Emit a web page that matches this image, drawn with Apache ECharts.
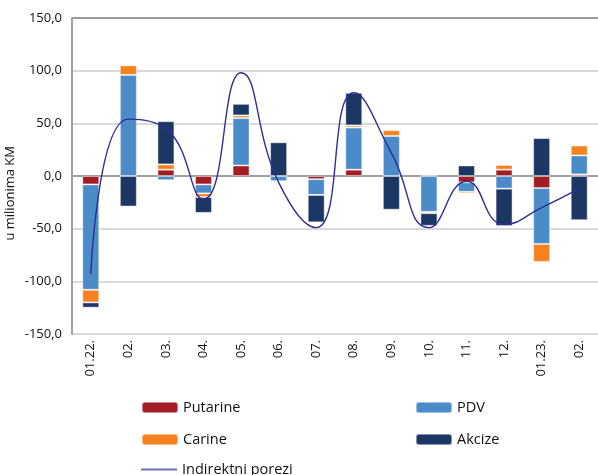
<!DOCTYPE html>
<html>
<head>
<meta charset="utf-8">
<script src="https://cdn.jsdelivr.net/npm/echarts@6/dist/echarts.min.js"></script>
<style>
html,body{margin:0;padding:0;background:#fff;}
#main{width:598px;height:475px;}
</style>
</head>
<body>
<div id="main"></div>
<script>
var categories = ['01.22.','02.','03.','04.','05.','06.','07.','08.','09.','10.','11.','12.','01.23.','02.'];
var putarine = [-8, 0, 6, -8, 10, 0, -3, 6, 0, 0.5, -6, 6, -11.5, 1.5];
var pdv = [-100, 96, -4, -8.5, 45, -5, -15, 40, 38, -34, -9, -12, -53, 18];
var carine = [-12, 9, 5, -3.5, 2.5, 0, 0, 2, 5.5, -1.3, -1.6, 4.5, -17, 9.5];
var akcize = [-5, -29, 41, -15, 11, 32, -26, 31, -32, -12, 10, -35.5, 36, -42];
var indirektni = [-93, 54, 45, -22, 98, -6, -49, 79, 22, -49, -5, -46, -30, -12];

var FONT = 'Open Sans';
var chart = echarts.init(document.getElementById('main'));
function barSeries(name, data, color) {
  return {
    name: name, type: 'bar', stack: 'total', data: data, barWidth: 17,
    itemStyle: { color: color, borderColor: 'rgba(255,255,255,0.45)', borderWidth: 1 }
  };
}
function leg(name, left, top, extra) {
  var l = {
    data: [name], left: left, top: top, itemWidth: 36, itemHeight: 11,
    textStyle: { fontFamily: FONT, fontSize: 14.5, color: '#111' }, itemGap: 4,
    selectedMode: false
  };
  if (extra) for (var k in extra) l[k] = extra[k];
  return l;
}
chart.setOption({
  animation: false,
  textStyle: { fontFamily: FONT },
  grid: { left: 72, right: 0, top: 18, bottom: 141 },
  legend: [
    leg('Putarine', 136, 395),
    leg('PDV', 410, 395),
    leg('Carine', 136, 427),
    leg('Akcize', 410, 427),
    leg('Indirektni porezi', 136, 457, {
      itemHeight: 2, icon: 'rect',
      itemStyle: { color: '#7070b8', borderWidth: 0 }
    })
  ],
  xAxis: {
    type: 'category', data: categories,
    axisLine: { lineStyle: { color: '#a0a0a0', width: 2 } },
    axisTick: { show: false },
    axisLabel: { rotate: 90, margin: 6, fontSize: 13, color: '#111', fontFamily: FONT }
  },
  yAxis: {
    type: 'value', min: -150, max: 150, interval: 50,
    axisLine: { show: true, lineStyle: { color: '#a0a0a0', width: 2 } },
    axisTick: { show: false },
    splitLine: { lineStyle: { color: ['#d9d9d9','#d9d9d9','#d9d9d9','#d9d9d9','#d9d9d9','#d9d9d9','#9a9a9a'], width: 2 } },
    axisLabel: {
      margin: 10, fontSize: 13, color: '#111', fontFamily: FONT,
      formatter: function (v) { return v.toFixed(1).replace('.', ','); }
    }
  },
  graphic: [{
    type: 'text', left: 4, top: 146, rotation: Math.PI / 2,
    style: { text: 'u milionima KM', fontFamily: FONT, fontSize: 13, fill: '#111' }
  }],
  series: [
    barSeries('Putarine', putarine, '#a31d24'),
    barSeries('PDV', pdv, '#4a8bc8'),
    barSeries('Carine', carine, '#f5821f'),
    barSeries('Akcize', akcize, '#1c3764'),
    {
      name: 'Indirektni porezi', type: 'line', data: indirektni, smooth: 0.5,
      symbol: 'none', z: 10,
      lineStyle: { color: '#2e2d96', width: 1.4 },
      itemStyle: { color: '#2e2d96' }
    }
  ]
});
</script>
</body>
</html>
